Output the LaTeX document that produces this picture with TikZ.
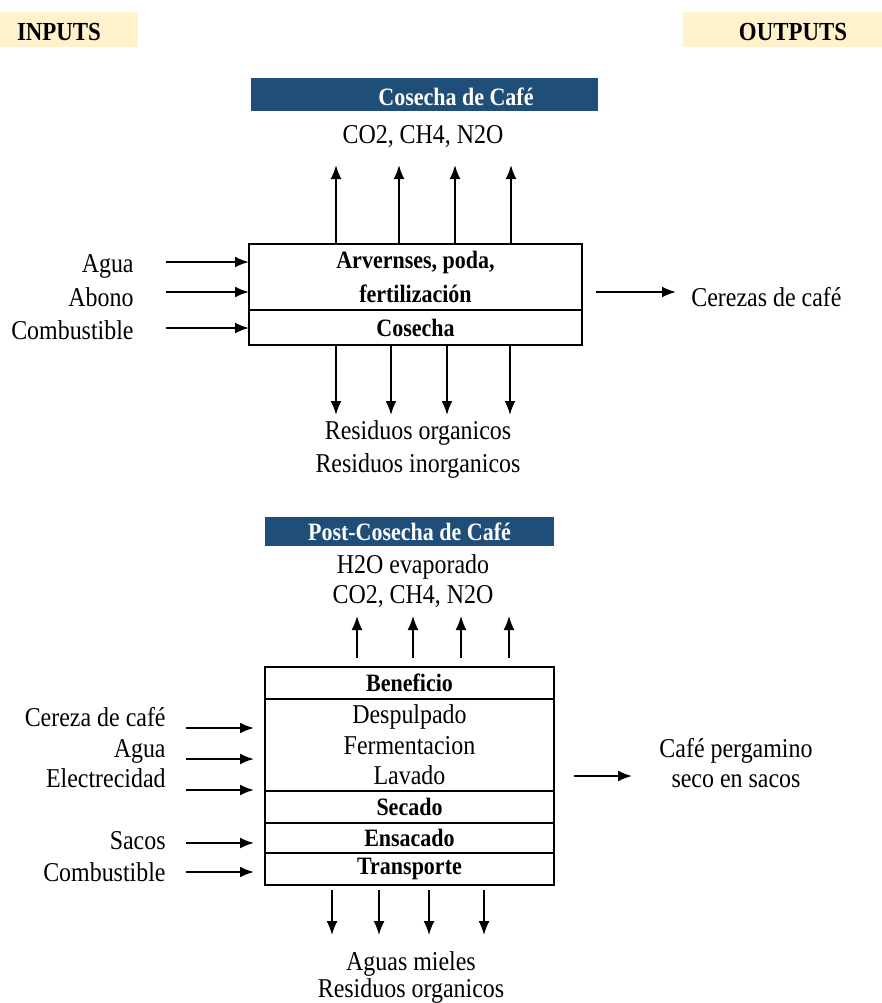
\documentclass[tikz,border=0pt]{standalone}
\usepackage{fontspec}
\setmainfont[FakeStretch=0.88]{Liberation Serif}
\usetikzlibrary{arrows.meta}

\definecolor{headblue}{RGB}{31,78,121}
\definecolor{tagyellow}{RGB}{255,242,204}
\newcommand{\bodyfont}{\fontsize{13.6}{17}\selectfont}
\newcommand{\boldfont}{\fontsize{12.5}{18}\selectfont\bfseries}

\tikzset{
  lbl/.style={font=\bodyfont, inner sep=0pt, text height=9pt, text depth=0pt},
  flow/.style={-{Latex[length=7pt,width=5.5pt]}, line width=1pt},
  stage/.style={draw, line width=1.3pt, inner sep=0pt, outer sep=0pt, align=center, font=\boldfont},
  cropstage/.style={stage, minimum width=166.5pt},
  millstage/.style={stage, minimum width=144.5pt},
  headtext/.style={font=\boldfont, text=white, inner sep=0pt},
}

\begin{document}
\begin{tikzpicture}[x=0.5pt, y=-0.5pt]
    \useasboundingbox (0,0) rectangle (882,1003);

    % Side tags
    \fill[tagyellow] (0,12) rectangle (138,47);
    \node[lbl, font=\fontsize{13}{16}\selectfont\bfseries] (inputs) at (59,31) {INPUTS};
    \fill[tagyellow] (683,12) rectangle (882,47);
    \node[lbl, font=\fontsize{13}{16}\selectfont\bfseries] (outputs) at (793,31) {OUTPUTS};

    % Cosecha de Cafe
    \fill[headblue] (251,78) rectangle (598,111);
    \node[headtext] (cosechaT) at (456,97) {Cosecha de Café};
    \node[lbl] (gasA) at (423,134) {CO2, CH4, N2O};

    \node[cropstage, minimum height=33pt, font=\fontsize{12.5}{17}\selectfont\bfseries] (arv) at (415.5,277) {Arvernses, poda,\\fertilización};
    \node[cropstage, minimum height=17.5pt, anchor=north] (cos) at (arv.south) {Cosecha};

    % gases going up
    \foreach \x [count=\i] in {336,399,455,511}{
        \coordinate (upA\i) at (\x,165);
        \draw[flow] (arv.north -| upA\i) -- (upA\i);
    }

    % inputs
    \foreach \name/\txt/\y/\ya in {agua/Agua/263/262, abono/Abono/297/292, combA/Combustible/330/328}{
        \node[lbl, anchor=east] (\name) at (134,\y) {\txt};
        \coordinate (\name-in) at (166,\ya);
        \draw[flow] (\name-in) -- (\name-in -| arv.west);
    }

    % output
    \node[lbl, anchor=west] (cerezas) at (691,297) {Cerezas de café};
    \coordinate (outA) at (596,292);
    \draw[flow, shorten >=7.5pt] (outA) -- (outA -| cerezas.west);

    % residues
    \foreach \x [count=\i] in {336,391,447,510}{
        \coordinate (downA\i) at (\x,415);
        \draw[flow] (cos.south -| downA\i) -- (downA\i);
    }
    \node[lbl] (resA) at (418,430) {Residuos organicos};
    \node[lbl] (resB) at (418,463) {Residuos inorganicos};

    % Post-Cosecha de Cafe
    \node[headtext, fill=headblue, minimum width=144.5pt, minimum height=14.5pt] (postT) at (409.5,531.5) {Post-Cosecha de Café};
    \node[lbl] (vapor) at (413,564) {H2O evaporado};
    \node[lbl] (gasB) at (413,594) {CO2, CH4, N2O};

    \node[millstage, minimum height=16pt] (ben) at (409.5,683) {Beneficio};
    \node[millstage, minimum height=46pt, anchor=north, font=\fontsize{13.6}{15.25}\selectfont] (desp) at (ben.south) {Despulpado\\Fermentacion\\Lavado};
    \node[millstage, minimum height=16pt, anchor=north] (sec) at (desp.south) {Secado};
    \node[millstage, minimum height=15pt, anchor=north] (ens) at (sec.south) {Ensacado};
    \node[millstage, minimum height=16pt, anchor=north] (trans) at (ens.south) {Transporte};

    \foreach \x [count=\i] in {357,413,461,509}{
        \coordinate (upB\i) at (\x,616);
        \draw[flow, line width=0.8pt, shorten <=4.5pt] (ben.north -| upB\i) -- (upB\i);
    }

    \foreach \name/\txt/\y/\ya in {cereza/Cereza de café/717/728, aguaB/Agua/748/759, luz/Electrecidad/778/790, sacos/Sacos/840/843, combB/Combustible/872/872}{
        \node[lbl, anchor=east] (\name) at (166,\y) {\txt};
        \coordinate (\name-in) at (186,\ya);
        \draw[flow, shorten >=5.5pt] (\name-in) -- (\name-in -| ben.west);
    }

    \node[font=\fontsize{13.6}{15}\selectfont, align=center, inner sep=0pt] (pergamino) at (736,763) {Café pergamino\\seco en sacos};
    \coordinate (outB) at (574,776);
    \draw[flow, shorten >=13.5pt] (outB) -- (outB -| pergamino.west);

    \foreach \x [count=\i] in {332,379,429,484}{
        \coordinate (downB\i) at (\x,935);
        \draw[flow, line width=0.8pt, shorten <=2.5pt] (trans.south -| downB\i) -- (downB\i);
    }
    \node[lbl] (mieles) at (411,961) {Aguas mieles};
    \node[lbl] (resC) at (411,988) {Residuos organicos};
\end{tikzpicture}
\end{document}
